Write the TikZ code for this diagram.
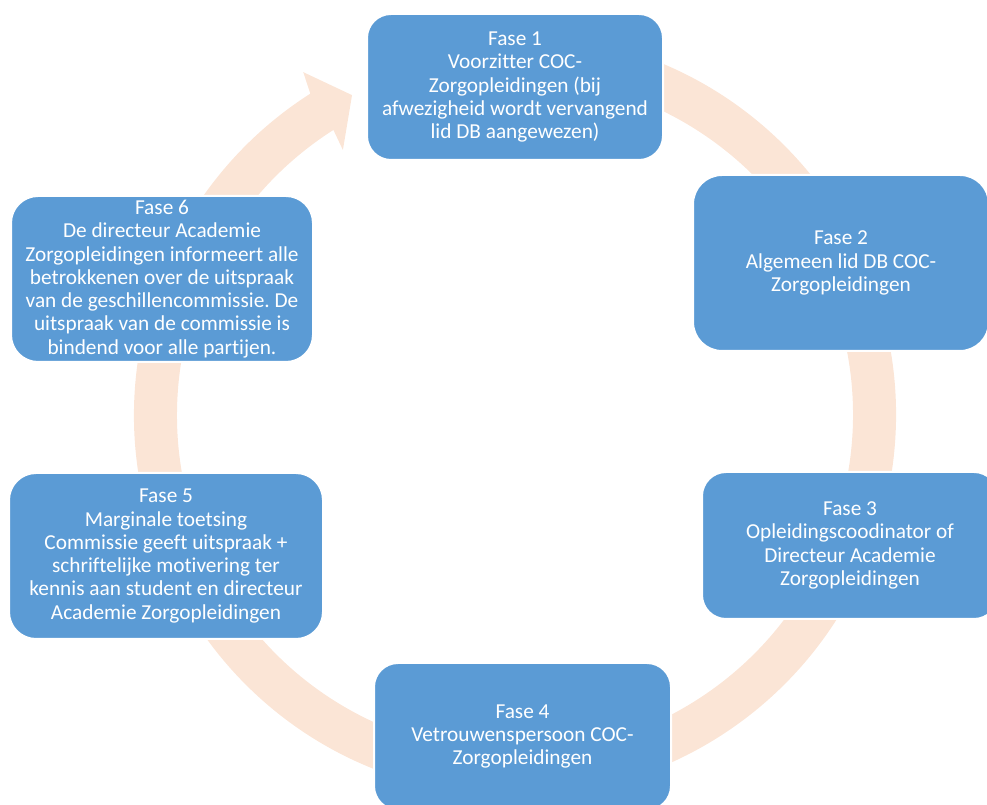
\documentclass[tikz,border=0pt]{standalone}
\usepackage{fontspec}
\setmainfont[Ligatures=NoCommon]{Carlito}
\frenchspacing
\definecolor{boxblue}{HTML}{5B9BD5}
\definecolor{ringpeach}{HTML}{FBE5D6}
\begin{document}
\begin{tikzpicture}[x=1pt,y=1pt,
  fasebox/.style={draw=white,line width=2pt,fill=boxblue,text=white,align=center,
    inner sep=0pt,font=\fontsize{21.3}{23.3}\selectfont\frenchspacing},
  ring/.style={fill=ringpeach,draw=none}]
\useasboundingbox (0,0) rectangle (987,805);
\clip (0,0) rectangle (987,805);
% ring arrow
\begin{scope}[shift={(515,390)}]
\fill[ring] (80:381) arc[start angle=80,end angle=-237.5,radius=381]
  -- (121.7:403) -- (117:359) -- (123:316) -- (122.5:338)
  arc[start angle=122.5,end angle=440,radius=338] -- cycle;
\end{scope}
% boxes
\node[fasebox,minimum width=296,minimum height=146,rounded corners=24] (f1) at (515,718)
  {Fase 1\\Voorzitter COC-\\Zorgopleidingen (bij\\afwezigheid wordt vervangend\\lid DB aangewezen)};
\node[fasebox,minimum width=296,minimum height=176,rounded corners=29] (f2) at (841,542)
  {Fase 2\\Algemeen lid DB COC-\\Zorgopleidingen};
\node[fasebox,minimum width=296,minimum height=147,rounded corners=24] (f3) at (850,259.5)
  {Fase 3\\Opleidingscoodinator of\\Directeur Academie\\Zorgopleidingen};
\node[fasebox,minimum width=297,minimum height=147,rounded corners=24] (f4) at (522.5,68.5)
  {Fase 4\\Vetrouwenspersoon COC-\\Zorgopleidingen};
\node[fasebox,minimum width=314,minimum height=166,rounded corners=27] (f5) at (166,249)
  {Fase 5\\Marginale toetsing\\Commissie geeft uitspraak +\\schriftelijke motivering ter\\kennis aan student en directeur\\Academie Zorgopleidingen};
\node[fasebox,minimum width=302,minimum height=166,rounded corners=27] (f6) at (162,526)
  {Fase 6\\De directeur Academie\\Zorgopleidingen informeert alle\\betrokkenen over de uitspraak\\van de geschillencommissie. De\\uitspraak van de commissie is\\bindend voor alle partijen.};
\end{tikzpicture}
\end{document}
